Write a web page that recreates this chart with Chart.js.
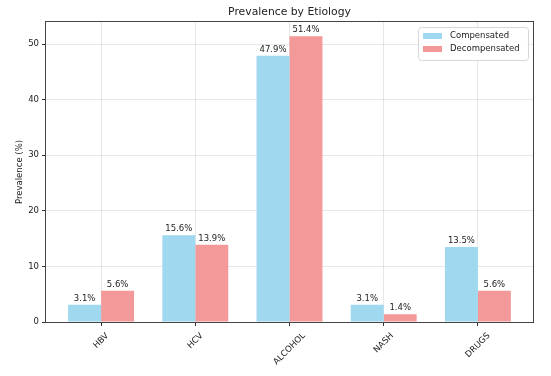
<!DOCTYPE html>
<html>
<head>
<meta charset="utf-8">
<script src="https://cdn.jsdelivr.net/npm/chart.js@4/dist/chart.umd.min.js"></script>
<style>
  html, body { margin: 0; padding: 0; background: #fff; }
  #wrap { width: 551px; height: 376px; }
</style>
</head>
<body>
<div id="wrap"><canvas id="etiology" width="551" height="376"></canvas></div>
<script>
  // data
  const categories = ['HBV', 'HCV', 'ALCOHOL', 'NASH', 'DRUGS'];
  const compensated = [3.1, 15.6, 47.9, 3.1, 13.5];
  const decompensated = [5.6, 13.9, 51.4, 1.4, 5.6];
  const yTicks = [0, 10, 20, 30, 40, 50];
  const seriesNames = ['Compensated', 'Decompensated'];

  const FONT = '"DejaVu Sans", sans-serif';
  const blue = 'rgb(159,216,239)';
  const red = 'rgb(243,153,153)';

  const toPoints = (arr) => arr.map((v, i) => ({ x: i, y: v }));

  const ctx = document.getElementById('etiology');
  new Chart(ctx, {
    type: 'bar',
    data: {
      datasets: [
        { label: seriesNames[0], data: toPoints(compensated), backgroundColor: blue, borderWidth: 0 },
        { label: seriesNames[1], data: toPoints(decompensated), backgroundColor: red, borderWidth: 0 },
      ],
    },
    options: {
      responsive: false,
      animation: false,
      events: [],
      layout: { padding: { top: 22, right: 18, left: 0, bottom: 0 } },
      datasets: { bar: { categoryPercentage: 0.7, barPercentage: 1.0 } },
      scales: {
        x: {
          type: 'linear',
          offset: false,
          min: -0.585,
          max: 4.585,
          afterBuildTicks: (scale) => { scale.ticks = categories.map((c, i) => ({ value: i })); },
          afterFit: (scale) => { scale.height = 54; },
          grid: { offset: false, color: 'rgba(176,176,176,0.3)', tickColor: '#333', tickLength: 4 },
          border: { display: false },
          ticks: { display: false },
        },
        y: {
          min: 0,
          max: 53.97,
          afterBuildTicks: (scale) => { scale.ticks = yTicks.map(v => ({ value: v })); },
          afterFit: (scale) => { scale.width = 46; },
          grid: { color: 'rgba(176,176,176,0.3)', tickColor: '#333', tickLength: 4 },
          border: { display: false },
          ticks: { color: '#222', font: { family: FONT, size: 8.5 }, padding: 3 },
          title: {
            display: true, text: 'Prevalence (%)', color: '#222',
            font: { family: FONT, size: 8.5 }, padding: { top: 15, bottom: 0 },
          },
        },
      },
      plugins: {
        legend: { display: false },
        tooltip: { enabled: false },
        title: { display: false },
      },
    },
    plugins: [{
      id: 'mplLook',
      afterDatasetsDraw: (chart) => {
        const { ctx, chartArea } = chart;
        const { left, right, top, bottom } = chartArea;
        ctx.save();

        // value labels above the bars
        ctx.font = '8.5px ' + FONT;
        ctx.fillStyle = '#222';
        ctx.textAlign = 'center';
        ctx.textBaseline = 'bottom';
        chart.data.datasets.forEach((ds, di) => {
          chart.getDatasetMeta(di).data.forEach((bar, i) => {
            ctx.fillText(ds.data[i].y.toFixed(1) + '%', bar.x, bar.y - 2);
          });
        });

        // frame
        ctx.strokeStyle = '#444';
        ctx.lineWidth = 1;
        ctx.strokeRect(Math.round(left) - 0.5, Math.round(top) - 0.5, Math.round(right - left) + 1, Math.round(bottom - top) + 1);

        // title
        ctx.font = '10.8px ' + FONT;
        ctx.textBaseline = 'middle';
        ctx.fillText('Prevalence by Etiology', (left + right) / 2, 12);

        // rotated category labels, centred under ticks like matplotlib
        const xs = chart.scales.x;
        ctx.font = '8.5px ' + FONT;
        categories.forEach((c, i) => {
          const px = xs.getPixelForValue(i);
          const w = ctx.measureText(c).width;
          const h = (w + 8.5 * 1.15) * Math.SQRT1_2;
          ctx.save();
          ctx.translate(px, bottom + 9 + h / 2);
          ctx.rotate(-Math.PI / 4);
          ctx.textAlign = 'center';
          ctx.textBaseline = 'middle';
          ctx.fillText(c, 0, 0);
          ctx.restore();
        });

        // legend box, upper right
        const lx = right - 115, ly = top + 5, lw = 110, lh = 33;
        ctx.beginPath();
        ctx.roundRect(lx + 0.5, ly + 0.5, lw, lh, 3);
        ctx.fillStyle = 'rgba(255,255,255,0.85)';
        ctx.fill();
        ctx.strokeStyle = '#d6d6d6';
        ctx.stroke();
        [blue, red].forEach((col, k) => {
          const cy = ly + 9 + k * 13;
          ctx.fillStyle = col;
          ctx.fillRect(lx + 5, cy - 3, 19, 6);
          ctx.fillStyle = '#222';
          ctx.textAlign = 'left';
          ctx.textBaseline = 'middle';
          ctx.fillText(seriesNames[k], lx + 32, cy);
        });

        ctx.restore();
      },
    }],
  });
</script>
</body>
</html>
